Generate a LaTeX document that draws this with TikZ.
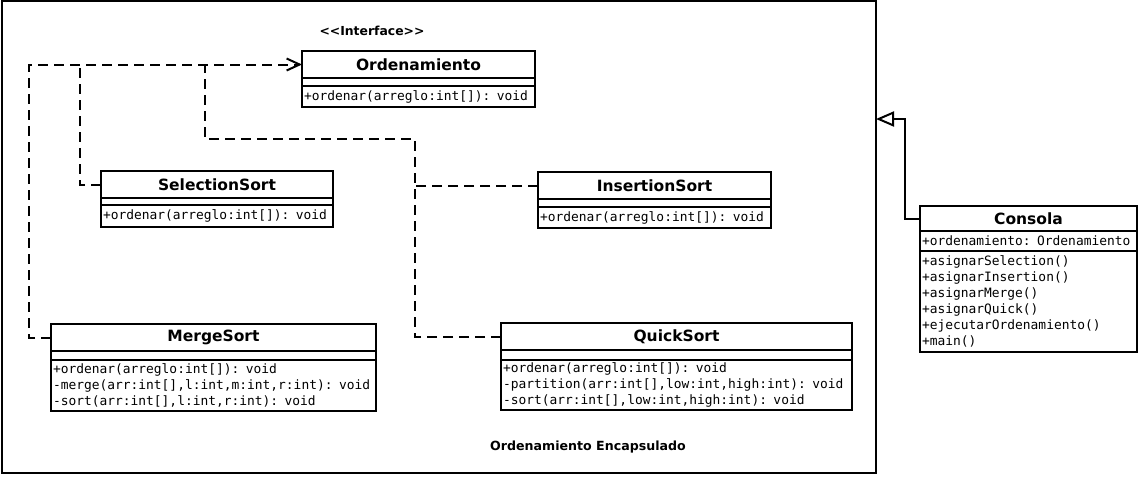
\documentclass[tikz,border=0pt]{standalone}
\usepackage{fontspec}
\newfontfamily\sansdv{DejaVu Sans}
\newfontfamily\monodv{DejaVu Sans Mono}
\usetikzlibrary{arrows.meta}

\begin{document}
\begin{tikzpicture}[x=1pt, y=-1pt,
        caja/.style={draw, rectangle, line width=2pt, anchor=north west, outer sep=0pt, inner sep=0pt},
        titulo/.style={caja, font=\sansdv\bfseries\fontsize{15.5}{18}\selectfont},
        metodos/.style={caja, align=left, inner xsep=2pt, font=\monodv\fontsize{12.9}{16}\selectfont},
        discont/.style={line width=2pt, dash pattern=on 10pt off 6pt},
        realiza/.style={discont, -{Straight Barb[length=13pt, width=12pt]}},
        hereda/.style={line width=2pt, -{Triangle[open, length=18pt, width=15pt]}},
        rotulo/.style={font=\sansdv\bfseries\fontsize{12.6}{14}\selectfont}]
    \useasboundingbox (0,0) rectangle (1140,477);

    % paquete
    \node[caja, line width=2.2pt, minimum width=874, minimum height=472] (paquete) at (2,1) {};
    \node[rotulo] (nombrepaq) at (588,447) {Ordenamiento Encapsulado};

    % interfaz
    \node[rotulo, font=\sansdv\bfseries\fontsize{12.4}{14}\selectfont] (estereo) at (372,31) {<<Interface>>};
    \node[titulo, minimum width=233, minimum height=27] (ord) at (302,51) {Ordenamiento};
    \node[caja, minimum width=233, minimum height=8] (ordat) at (ord.south west) {};
    \node[metodos, text width=229, minimum height=21] (ordme) at (ordat.south west) {+ordenar(arreglo:int[]): void};

    % clases concretas
    \node[titulo, minimum width=232, minimum height=27] (sel) at (101,171) {SelectionSort};
    \node[caja, minimum width=232, minimum height=7] (selat) at (sel.south west) {};
    \node[metodos, text width=228, minimum height=22] (selme) at (selat.south west) {+ordenar(arreglo:int[]): void};

    \node[titulo, minimum width=233, minimum height=27] (ins) at (538,172) {InsertionSort};
    \node[caja, minimum width=233, minimum height=8] (insat) at (ins.south west) {};
    \node[metodos, text width=229, minimum height=21] (insme) at (insat.south west) {+ordenar(arreglo:int[]): void};

    \node[titulo, minimum width=325, minimum height=27] (merge) at (51,324) {MergeSort};
    \node[caja, minimum width=325, minimum height=9] (mergeat) at (merge.south west) {};
    \node[metodos, text width=321, minimum height=51] (mergeme) at (mergeat.south west)
        {+ordenar(arreglo:int[]): void\\-merge(arr:int[],l:int,m:int,r:int): void\\-sort(arr:int[],l:int,r:int): void};

    \node[titulo, minimum width=351, minimum height=27] (quick) at (501,323) {QuickSort};
    \node[caja, minimum width=351, minimum height=10] (quickat) at (quick.south west) {};
    \node[metodos, text width=347, minimum height=50] (quickme) at (quickat.south west)
        {+ordenar(arreglo:int[]): void\\-partition(arr:int[],low:int,high:int): void\\-sort(arr:int[],low:int,high:int): void};

    % consola
    \node[titulo, minimum width=217, minimum height=25] (con) at (920,206) {Consola};
    \node[metodos, text width=213, minimum height=20] (conat) at (con.south west) {+ordenamiento: Ordenamiento};
    \node[metodos, text width=213, minimum height=101] (conme) at (conat.south west)
        {+asignarSelection()\\+asignarInsertion()\\+asignarMerge()\\+asignarQuick()\\+ejecutarOrdenamiento()\\+main()};

    % realizaciones
    \coordinate (jsel) at (80,64.5);
    \coordinate (jquick) at (205,64.5);
    \coordinate (codo) at (415,139);
    \draw[realiza] (merge.west) -- ++(-22,0) |- (ord.west);
    \draw[discont] (sel.west) -| (jsel);
    \draw[discont] (quick.west) -| (codo) -| (jquick);
    \draw[discont] (ins.west) -- (ins.west -| codo);

    % herencia
    \coordinate (pq) at (876,119);
    \draw[hereda] (con.west) -- ++(-15,0) |- (pq);
\end{tikzpicture}
\end{document}
